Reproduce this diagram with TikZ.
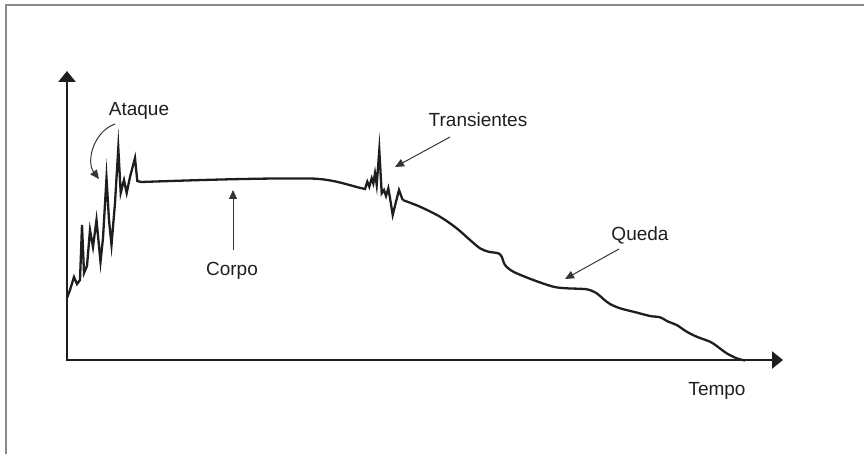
\documentclass[tikz,border=0pt]{standalone}
\usepackage{fontspec}
\setmainfont{Liberation Sans}
\usetikzlibrary{arrows.meta}
\definecolor{ink}{HTML}{1E1E1E}
\definecolor{frame}{HTML}{8A8A8A}
\tikzset{
  axis/.style={line width=2.6pt, draw=ink, -{Triangle[length=11pt,width=17pt]}},
  wave/.style={line width=2.3pt, draw=ink, line join=miter, miter limit=20},
  pointer/.style={line width=1pt, draw=ink!90, -{Triangle[length=9pt,width=8pt]}},
  lbl/.style={font=\fontsize{19}{21}\selectfont, text=ink, inner sep=0pt, anchor=base}
}
\begin{document}
\begin{tikzpicture}[x=1pt,y=-1pt]
\useasboundingbox (0,0) rectangle (864,454);
% outer frame (top and left edges)
\draw[frame, line width=1.4pt] (6,454) -- (6,5) -- (864,5);

% axes
\coordinate (O) at (67,360);
\coordinate (ytop) at (67,71);
\coordinate (xend) at (783,360);
\draw[axis] (O) -- (ytop);
\draw[axis] ([xshift=-1.3pt]O) -- (xend);

% attack
\draw[wave] (67,298) -- (70,290) -- (74,277) -- (77,284) -- (80,280) -- (82,225)
  -- (84,273) -- (87,266) -- (90,230) -- (93,247) -- (96.5,220) -- (100.5,262)
  -- (103,238) -- (106.5,178) -- (109,220) -- (111.5,245) -- (115,203)
  -- (118.3,148) -- (120.7,193) -- (124,180) -- (126.7,193) -- (130,177)
  -- (135,158) -- (137.3,181) -- (141,182);
% sustain and transient
\draw[wave] (141,182) .. controls (200,180) and (260,178) .. (310,178.5)
  .. controls (335,179) and (350,186) .. (365,189)
  -- (367.3,181.7) -- (369.3,186.7) -- (371.7,178.3) -- (373.3,183.3)
  -- (375,173.3) -- (376.7,185) -- (379.3,150) -- (381.7,193.3) -- (384,190)
  -- (386,196) -- (388.3,188.3) -- (390,198) -- (392.7,215) -- (396,201.7)
  -- (399,190) -- (402.7,200);
% decay
\draw[wave, line join=round] plot[smooth, tension=0.5] coordinates {
  (402.7,200) (420,206.7) (440,216.7) (456.7,228.3) (470,240) (480,248.3)
  (488.3,251.7) (498.3,253.3) (501.7,256.7) (505,265) (513.3,271.7)
  (533.3,280) (553.3,286.7) (566.7,288.3) (586.7,289.3) (596.7,293.3)
  (603.3,299) (610,304) (620,308.3) (633.3,311.7) (650,316) (660,317.3)
  (668.3,321.7) (676.7,325) (686.7,331.7) (696.7,336.7) (710,341.7)
  (716.7,346) (726.7,353.3) (736.7,358.3) (745,360.5)};

% labels
\node[lbl] (ataque) at (139,116) {Ataque};
\node[lbl] (trans) at (478,127) {Transientes};
\node[lbl] (corpo) at (232,276) {Corpo};
\node[lbl] (queda) at (640,241) {Queda};
\node[lbl] (tempo) at (717,395) {Tempo};

% pointers
\coordinate (a1) at (115,124);
\coordinate (a2) at (99,179);
\coordinate (t1) at (450,137);
\coordinate (t2) at (395,167);
\coordinate (c1) at (233,250);
\coordinate (c2) at (233,190);
\coordinate (q1) at (619,249);
\coordinate (q2) at (565,279);
\draw[pointer] (a1) .. controls (93,132) and (86,162) .. (a2);
\draw[pointer] (t1) -- (t2);
\draw[pointer] (c1) -- (c2);
\draw[pointer] (q1) -- (q2);
\end{tikzpicture}
\end{document}
